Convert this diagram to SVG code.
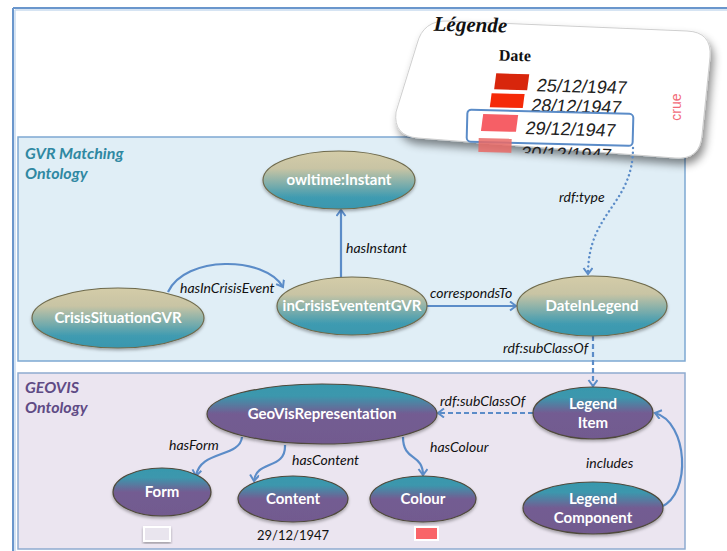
<svg xmlns="http://www.w3.org/2000/svg" width="727" height="551" viewBox="0 0 727 551">
<style>
.frame{fill:none;stroke:#6a96cc;stroke-width:2}
.frame2{fill:none;stroke:#c9dbef;stroke-width:1.5}
.box1{fill:#e0eef6;stroke:#7ea8d2;stroke-width:1.5}
.box2{fill:#ebe5f0;stroke:#8eaad0;stroke-width:1.5}
.sec1{font-family:Lato,"Liberation Sans",sans-serif;font-style:italic;font-weight:bold;font-size:16px;fill:#2f88a2}
.sec2{font-family:Lato,"Liberation Sans",sans-serif;font-style:italic;font-weight:bold;font-size:16px;fill:#5f4b85}
.n1{fill:url(#g1);stroke:#6e6a4c;stroke-width:1.2;filter:url(#ns)}
.n2{fill:url(#g2);stroke:#4f4a3c;stroke-width:1.2;filter:url(#ns)}
.nl{font-family:Lato,"Liberation Sans",sans-serif;font-weight:bold;font-size:15px;fill:#ffffff;text-anchor:middle}
.el{font-family:Lato,"Liberation Sans",sans-serif;font-style:italic;font-size:14px;fill:#111}
.edge{fill:none;stroke:#5b8cc8;stroke-width:2.2;marker-end:url(#arr)}
.dash{stroke-dasharray:5 3}
.dot{stroke-dasharray:0.1 4.5;stroke-linecap:round;stroke-width:2.4}
.lt{font-family:"Liberation Sans",Arial,sans-serif;font-size:18px;fill:#222}
</style>
<defs>
<linearGradient id="g1" x1="0" y1="0" x2="0" y2="1">
<stop offset="0" stop-color="#d4cca8"/>
<stop offset="0.3" stop-color="#c8c4a4"/>
<stop offset="0.8" stop-color="#3f9bb1"/>
<stop offset="1" stop-color="#3a97ae"/>
</linearGradient>
<linearGradient id="g2" x1="0" y1="0" x2="0" y2="1">
<stop offset="0" stop-color="#3898ad"/>
<stop offset="0.2" stop-color="#3c97ad"/>
<stop offset="0.5" stop-color="#735c92"/>
<stop offset="1" stop-color="#725a8f"/>
</linearGradient>
<filter id="ns" x="-10%" y="-10%" width="120%" height="130%">
<feDropShadow dx="0" dy="2" stdDeviation="1.5" flood-color="#000" flood-opacity="0.3"/>
</filter>
<filter id="cs" x="-10%" y="-20%" width="125%" height="150%">
<feDropShadow dx="3" dy="6" stdDeviation="4" flood-color="#000" flood-opacity="0.45"/>
</filter>
<marker id="arr" markerUnits="userSpaceOnUse" markerWidth="12" markerHeight="12" refX="7" refY="5" orient="auto">
<path d="M1,0.5 L7,5 L1,9.5" fill="none" stroke="#5b8cc8" stroke-width="2"/>
</marker>
<clipPath id="rowclip"><rect x="380" y="130" width="300" height="24"/></clipPath>
</defs>

<!-- outer frame -->
<line class="frame" x1="13" y1="8" x2="727" y2="8"/>
<line class="frame" x1="13" y1="8" x2="13" y2="551"/>
<line class="frame2" x1="15" y1="10" x2="727" y2="10"/>
<line class="frame2" x1="15" y1="10" x2="15" y2="551"/>

<!-- sections -->
<g id="gvr-section">
<rect class="box1" x="18" y="137" width="667" height="224"/>
<text class="sec1" x="25" y="159">GVR Matching</text>
<text class="sec1" x="25" y="179">Ontology</text>
</g>
<g id="geovis-section">
<rect class="box2" x="18" y="373" width="667" height="176"/>
<text class="sec2" x="25" y="393">GEOVIS</text>
<text class="sec2" x="25" y="413">Ontology</text>
</g>

<!-- legend card -->
<g id="legend-card">
<path d="M448,21 L687,31 Q712,32 710,57 L702,135 Q700,160 675,158 L418,138 Q393,136 396,112 L417,44 Q423,20 448,21 Z" fill="#ffffff" stroke="#cfcfcf" stroke-width="1" filter="url(#cs)"/>
<g transform="rotate(1.5 560 90)">
<text x="432" y="34" font-family="'Liberation Serif','Times New Roman',serif" font-weight="bold" font-style="italic" font-size="21" fill="#111">Légende</text>
<text x="498" y="62" font-family="'Liberation Serif','Times New Roman',serif" font-weight="bold" font-size="16" fill="#111">Date</text>
<rect x="495" y="75" width="33" height="16" fill="#d8260c" transform="skewX(-6)" transform-origin="511 83"/>
<text class="lt" x="536" y="92" transform="skewX(-8)" transform-origin="536 92">25/12/1947</text>
<rect x="491" y="95" width="33" height="14" fill="#f52a08" transform="skewX(-6)" transform-origin="507 102"/>
<text class="lt" x="531" y="112" transform="skewX(-8)" transform-origin="531 112">28/12/1947</text>
<rect x="483" y="116" width="35" height="17" fill="#f65f66" transform="skewX(-6)" transform-origin="500 124"/>
<text class="lt" x="526" y="135" transform="skewX(-8)" transform-origin="526 135">29/12/1947</text>
<rect x="468" y="112" width="166" height="32" rx="4" fill="none" stroke="#5b8cc8" stroke-width="2"/>
<g clip-path="url(#rowclip)">
<rect x="480" y="140" width="33" height="16" fill="#e96a66" opacity="0.85"/>
<text class="lt" x="522" y="160" transform="skewX(-8)" transform-origin="522 160">30/12/1947</text>
</g>
</g>
<text x="681" y="107" transform="rotate(-90 681 107)" text-anchor="middle" font-family="'Liberation Sans',Arial,sans-serif" font-size="14" fill="#f26a78">crue</text>
</g>

<!-- connectors -->
<g id="connectors">
<path class="edge" d="M168,292 C185,255 265,256 283,287"/>
<text class="el" x="180" y="293">hasInCrisisEvent</text>
<path class="edge" d="M341,277 L341,210"/>
<text class="el" x="346" y="253">hasInstant</text>
<path class="edge" d="M427,306 L516,306"/>
<text class="el" x="430" y="298">correspondsTo</text>
<path class="edge dot" d="M633,148 C633,205 588,212 588,274"/>
<text class="el" x="559" y="202">rdf:type</text>
<path class="edge dash" d="M593,336 L593,386"/>
<text class="el" x="503" y="353">rdf:subClassOf</text>
<path class="edge dash" d="M533,413 L438,413"/>
<text class="el" x="440" y="406">rdf:subClassOf</text>
<path class="edge" d="M242,437 C240,458 200,450 196,476"/>
<text class="el" x="169" y="450">hasForm</text>
<path class="edge" d="M285,445 C286,470 256,460 254,481"/>
<text class="el" x="292" y="465">hasContent</text>
<path class="edge" d="M403,437 C403,462 423,453 423,475"/>
<text class="el" x="430" y="452">hasColour</text>
<path class="edge" d="M661,507 C692,494 688,422 655,413"/>
<text class="el" x="586" y="468">includes</text>
</g>

<!-- GVR nodes -->
<g id="node-owltime-instant">
<ellipse class="n1" cx="339" cy="180" rx="76" ry="29"/>
<text class="nl" x="339" y="185">owltime:Instant</text>
</g>
<g id="node-crisis-situation">
<ellipse class="n1" cx="118" cy="318" rx="86" ry="30"/>
<text class="nl" x="118" y="323">CrisisSituationGVR</text>
</g>
<g id="node-in-crisis-event">
<ellipse class="n1" cx="352" cy="306" rx="75" ry="29"/>
<text class="nl" x="352" y="311">inCrisisEvententGVR</text>
</g>
<g id="node-date-in-legend">
<ellipse class="n1" cx="592" cy="306" rx="75" ry="30"/>
<text class="nl" x="592" y="311">DateInLegend</text>
</g>

<!-- GEOVIS nodes -->
<g id="node-geovis-representation">
<ellipse class="n2" cx="322" cy="414" rx="115" ry="30"/>
<text class="nl" x="322" y="419">GeoVisRepresentation</text>
</g>
<g id="node-form">
<ellipse class="n2" cx="162" cy="492" rx="49" ry="24"/>
<text class="nl" x="162" y="497">Form</text>
<rect x="144" y="527" width="26" height="14" fill="#e9e5ee" stroke="#ffffff" stroke-width="2" filter="url(#ns)"/>
</g>
<g id="node-content">
<ellipse class="n2" cx="293" cy="499" rx="55" ry="23"/>
<text class="nl" x="293" y="504">Content</text>
<text x="257" y="540" font-family="Lato,'Liberation Sans',sans-serif" font-size="13" fill="#111">29/12/1947</text>
</g>
<g id="node-colour">
<ellipse class="n2" cx="423" cy="499" rx="53" ry="23"/>
<text class="nl" x="423" y="504">Colour</text>
<rect x="415" y="527" width="23" height="13" fill="#f96468" stroke="#ffffff" stroke-width="2"/>
</g>
<g id="node-legend-item">
<ellipse class="n2" cx="593" cy="413" rx="60" ry="26"/>
<text class="nl" x="593" y="409">Legend</text>
<text class="nl" x="593" y="428">Item</text>
</g>
<g id="node-legend-component">
<ellipse class="n2" cx="593" cy="508" rx="70" ry="26"/>
<text class="nl" x="593" y="504">Legend</text>
<text class="nl" x="593" y="523">Component</text>
</g>
</svg>
